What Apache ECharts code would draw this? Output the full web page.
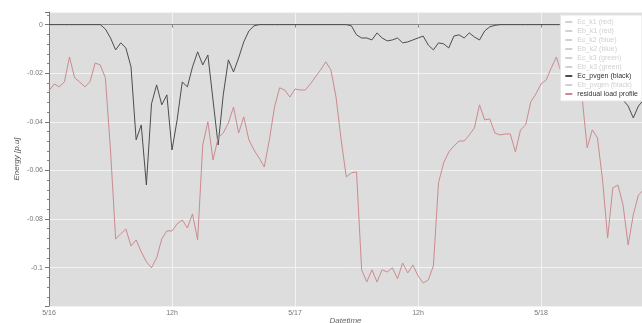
<!DOCTYPE html>
<html>
<head>
<meta charset="utf-8">
<script src="https://cdn.jsdelivr.net/npm/echarts@6/dist/echarts.min.js"></script>
<style>
  html, body { margin: 0; padding: 0; background: #fff; }
  #chart { width: 642px; height: 323px; }
</style>
</head>
<body>
<div id="chart"></div>
<script>
// half-hour samples starting 5/16 00:00
const stepHours = 0.5

const residualLoad = [
    -0.0273, -0.0244, -0.0256, -0.0236, -0.0133, -0.0219, -0.0236, -0.0256, -0.0235, -0.0158,
    -0.0166, -0.0219, -0.0516, -0.0882, -0.0861, -0.0841, -0.0911, -0.0886, -0.0935, -0.0976,
    -0.1001, -0.0960, -0.0882, -0.0849, -0.0849, -0.0820, -0.0804, -0.0837, -0.0779, -0.0886,
    -0.0495, -0.0400, -0.0557, -0.0466, -0.0446, -0.0405, -0.0339, -0.0446, -0.0380, -0.0474,
    -0.0516, -0.0549, -0.0586, -0.0474, -0.0339, -0.0260, -0.0269, -0.0298, -0.0265, -0.0269,
    -0.0269, -0.0244, -0.0215, -0.0186, -0.0153, -0.0186, -0.0298, -0.0474, -0.0627, -0.0610,
    -0.0606, -0.1009, -0.1059, -0.1009, -0.1059, -0.1009, -0.1018, -0.1001, -0.1046, -0.0981,
    -0.1022, -0.0989, -0.1034, -0.1063, -0.1051, -0.0993, -0.0651, -0.0569, -0.0524, -0.0499,
    -0.0479, -0.0479, -0.0454, -0.0425, -0.0330, -0.0392, -0.0388, -0.0446, -0.0454, -0.0450,
    -0.0450, -0.0524, -0.0433, -0.0413, -0.0318, -0.0285, -0.0244, -0.0228, -0.0178, -0.0133,
    -0.0203, -0.0219, -0.0211, -0.0244, -0.0298, -0.0507, -0.0433, -0.0466, -0.0639, -0.0878,
    -0.0672, -0.0660, -0.0742, -0.0907, -0.0783, -0.0701, -0.0680,
]

const pvGen = [
    0, 0, 0, 0, 0, 0, 0, 0, 0, 0,
    0, -0.0018, -0.0055, -0.0104, -0.0075, -0.0096, -0.0174, -0.0474, -0.0413, -0.0660,
    -0.0326, -0.0248, -0.0330, -0.0289, -0.0516, -0.0392, -0.0236, -0.0256, -0.0174, -0.0112,
    -0.0166, -0.0125, -0.0310, -0.0495, -0.0289, -0.0145, -0.0195, -0.0137, -0.0071, -0.0026,
    -0.0005, 0, 0, 0, 0, 0, 0, 0, 0, 0,
    0, 0, 0, 0, 0, 0, 0, 0, 0, -0.0005,
    -0.0042, -0.0055, -0.0055, -0.0063, -0.0034, -0.0055, -0.0067, -0.0063, -0.0055, -0.0075,
    -0.0071, -0.0063, -0.0055, -0.0047, -0.0084, -0.0104, -0.0075, -0.0079, -0.0096, -0.0047,
    -0.0042, -0.0055, -0.0034, -0.0051, -0.0063, -0.0026, -0.0009, -0.0003, 0, 0,
    0, 0, 0, 0, 0, 0, 0, 0, 0, 0,
    0, 0, 0, 0, 0, 0, 0, -0.0003, -0.0030, -0.0084,
    -0.0145, -0.0228, -0.0310, -0.0335, -0.0384, -0.0335, -0.0310,
]

// legend entries; only pvgen and residual load are switched on
const mutedNames = ['Ec_k1 (red)', 'Eb_k1 (red)', 'Ec_k2 (blue)', 'Eb_k2 (blue)', 'Ec_k3 (green)', 'Eb_k3 (green)']
const pvName = 'Ec_pvgen (black)'
const pvMutedName = 'Eb_pvgen (black)'
const loadName = 'residual load profile'
const dayLabels = ['5/16', '5/17', '5/18']

const toPairs = (arr) => arr.map((v, i) => [i * stepHours, v])

const chart = echarts.init(document.getElementById('chart'))

const legendNames = [...mutedNames, pvName, pvMutedName, loadName]
const selected = {}
legendNames.forEach((n) => { selected[n] = (n === pvName || n === loadName) })

const hiddenSeries = [...mutedNames, pvMutedName].map((n) => ({
    name: n, type: 'line', data: [], symbol: 'none',
}))

const option = {
    animation: false,
    textStyle: { fontFamily: 'Liberation Sans, Arial, sans-serif' },
    grid: {
        left: 49, right: 0, top: 12, bottom: 17,
        outerBoundsMode: 'none',
        show: true, backgroundColor: '#dddddd', borderWidth: 0,
    },
    legend: {
        data: legendNames,
        selected: selected,
        orient: 'vertical',
        right: 0, top: 15,
        backgroundColor: '#ffffff',
        borderColor: '#e4e4e4', borderWidth: 1,
        padding: [3, 4, 3, 4],
        itemWidth: 7, itemHeight: 2, itemGap: 1,
        inactiveColor: '#d0d0d0',
        textStyle: { fontSize: 7, color: '#333', lineHeight: 8 },
    },
    xAxis: {
        type: 'value',
        min: 0, max: 57.85, interval: 12,
        name: 'Datetime',
        nameLocation: 'middle', nameGap: 11, nameMoveOverlap: false,
        nameTextStyle: { fontSize: 8, color: '#666', fontStyle: 'italic' },
        axisLine: { show: true, lineStyle: { color: '#888', width: 1 } },
        axisTick: { show: true, length: 3, lineStyle: { color: '#888' } },
        axisLabel: {
            fontSize: 7, color: '#777', margin: 4, showMaxLabel: false,
            formatter: (v) => {
                if (v % 24 === 0) return dayLabels[v / 24] || ''
                if (v % 12 === 0) return '12h'
                return ''
            },
        },
        splitLine: { show: true, lineStyle: { color: '#f2f2f2', width: 1 } },
    },
    yAxis: {
        type: 'value',
        min: -0.1158, max: 0.0052, splitNumber: 6,
        name: 'Energy [p.u]',
        nameLocation: 'middle', nameGap: 28, nameMoveOverlap: false,
        nameTextStyle: { fontSize: 8, color: '#555', fontStyle: 'italic' },
        axisLine: { show: true, lineStyle: { color: '#777', width: 1 } },
        axisTick: { show: true, length: 4, lineStyle: { color: '#777' } },
        minorTick: { show: true, splitNumber: 5, length: 2, lineStyle: { color: '#888' } },
        axisLabel: {
            fontSize: 7, color: '#777', margin: 6,
            showMinLabel: false, showMaxLabel: false,
            formatter: (v) => {
                const r = Math.round(v * 100) / 100
                if (Math.abs(v - r) > 1e-6) return ''
                return r === 0 ? '0' : String(r)
            },
        },
        splitLine: { show: true, lineStyle: { color: '#f2f2f2', width: 1 } },
    },
    series: [
        ...hiddenSeries.slice(0, 6),
        {
            name: pvName, type: 'line', data: toPairs(pvGen),
            symbol: 'none', color: '#4d4d4d',
            lineStyle: { color: '#4d4d4d', width: 1 },
        },
        hiddenSeries[6],
        {
            name: loadName, type: 'line', data: toPairs(residualLoad),
            symbol: 'none', color: '#cc8a8e',
            lineStyle: { color: '#cc8a8e', width: 1 },
        },
    ],
}

chart.setOption(option)
</script>
</body>
</html>
